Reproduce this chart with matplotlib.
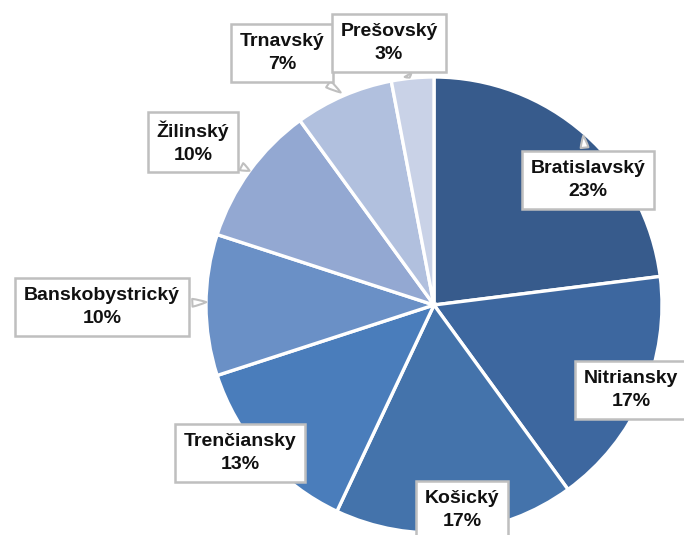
import matplotlib
matplotlib.use('Agg')
import matplotlib.pyplot as plt

# data
regions = ['Bratislavský', 'Nitriansky', 'Košický', 'Trenčiansky',
           'Banskobystrický', 'Žilinský', 'Trnavský', 'Prešovský']
shares = [23, 17, 17, 13, 10, 10, 7, 3]
colors = ['#375b8c', '#3d679f', '#4473ab', '#4a7dbb',
          '#6a90c6', '#93a8d2', '#b1c0de', '#c9d2e7']

# label box centres and pointer targets in pixel coords (top-left origin)
label_pos = [(588, 180), (631, 390), (462, 510), (240, 453),
             (102, 307), (193, 142), (282, 53), (389, 43)]
pointers = [(583, 133), None, None, None,
            (209, 302), (252, 172), (343, 94), (411, 80)]

W, H = 684, 535
plt.rcParams['font.family'] = ['Liberation Sans Narrow', 'Liberation Sans', 'DejaVu Sans']

fig = plt.figure(figsize=(W / 100, H / 100), dpi=100)
ax = fig.add_axes([0, 0, 1, 1])
ax.set_xlim(0, W)
ax.set_ylim(0, H)
ax.set_aspect('equal')
ax.axis('off')

cx, cy, R = 434, 305, 228
ax.pie(shares, colors=colors, startangle=90, counterclock=False,
       center=(cx, H - cy), radius=R,
       wedgeprops=dict(edgecolor='white', linewidth=2.4))
ax.set_xlim(0, W)
ax.set_ylim(0, H)

for name, val, (lx, ly), tgt in zip(regions, shares, label_pos, pointers):
    txt = '{}\n{}%'.format(name, val)
    box = dict(boxstyle='square,pad=0.45', fc='white', ec='#bfbfbf', lw=1.8)
    if tgt is None:
        ax.text(lx, H - ly, txt, ha='center', va='center', fontsize=14,
                fontweight='bold', color='#111111', linespacing=1.45,
                bbox=box, zorder=5)
    else:
        ax.annotate(txt, xy=(tgt[0], H - tgt[1]), xytext=(lx, H - ly),
                    ha='center', va='center', fontsize=14, fontweight='bold',
                    color='#111111', linespacing=1.45, bbox=box, zorder=5,
                    arrowprops=dict(arrowstyle='wedge,tail_width=0.4,shrink_factor=0.6',
                                    fc='white', ec='#bfbfbf', lw=1.5))

fig.savefig('out.png', dpi=100)
